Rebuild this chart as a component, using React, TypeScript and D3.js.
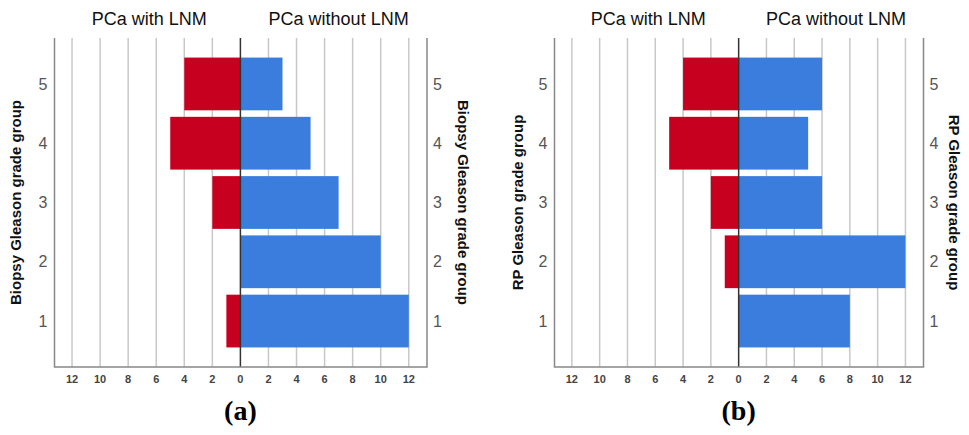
import React from 'react';
import * as d3 from 'd3';

const grades = ['5', '4', '3', '2', '1'];
const biopsyWithLNM = [4, 5, 2, 0, 1];
const biopsyWithoutLNM = [3, 5, 7, 10, 12];
const rpWithLNM = [4, 5, 2, 1, 0];
const rpWithoutLNM = [6, 5, 6, 12, 8];
const xTicks = [-12, -10, -8, -6, -4, -2, 0, 2, 4, 6, 8, 10, 12];

const RED = '#c8001f';
const BLUE = '#3b7ddc';
const FONT = 'Liberation Sans, Arial, sans-serif';

type PanelProps = {
  left: number;
  right: number;
  withLNM: number[];
  withoutLNM: number[];
  yLabel: string;
  tag: string;
  leftLabelX: number;
  rightLabelX: number;
};

const top = 38;
const bottom = 367;

const Panel = ({ left, right, withLNM, withoutLNM, yLabel, tag, leftLabelX, rightLabelX }: PanelProps) => {
  const x = d3.scaleLinear().domain([-13.25, 13.3]).range([left, right]);
  const y = d3.scaleBand<string>().domain(grades).range([top, bottom]).paddingInner(0.11).paddingOuter(0.33);
  const x0 = x(0);
  const midY = (top + bottom) / 2;

  return (
    <g>
      {xTicks.filter(t => t !== 0).map(t => (
        <line key={t} x1={x(t)} x2={x(t)} y1={top} y2={bottom} stroke="#c8c8c8" strokeWidth={1.5} />
      ))}
      {grades.map((g, i) => (
        <g key={g}>
          <rect x={x(-withLNM[i])} y={y(g)} width={x0 - x(-withLNM[i])} height={y.bandwidth()} fill={RED} />
          <rect x={x0} y={y(g)} width={x(withoutLNM[i]) - x0} height={y.bandwidth()} fill={BLUE} />
          <text x={left - 7} y={y(g)! + y.bandwidth() / 2} textAnchor="end" dy="0.35em" fontSize={16} fill="#555" fontFamily={FONT}>{g}</text>
          <text x={right + 6} y={y(g)! + y.bandwidth() / 2} dy="0.35em" fontSize={16} fill="#555" fontFamily={FONT}>{g}</text>
        </g>
      ))}
      <line x1={x0} x2={x0} y1={top} y2={bottom} stroke="#333" strokeWidth={1.5} />
      <path d={`M${left},${top}V${bottom}H${right}V${top}`} fill="none" stroke="#888" strokeWidth={1.5} />
      {xTicks.map(t => (
        <text key={t} x={x(t)} y={bottom + 16} textAnchor="middle" fontSize={11} fontWeight="bold" fill="#444" fontFamily={FONT}>{Math.abs(t)}</text>
      ))}
      <text x={x(-6.5)} y={25} textAnchor="middle" fontSize={18} fill="#111" fontFamily={FONT}>PCa with LNM</text>
      <text x={x(7)} y={25} textAnchor="middle" fontSize={18} fill="#111" fontFamily={FONT}>PCa without LNM</text>
      <text transform={`translate(${leftLabelX},${midY}) rotate(-90)`} textAnchor="middle" dy="0.35em" fontSize={15} fontWeight="bold" fill="#111" fontFamily={FONT}>{yLabel}</text>
      <text transform={`translate(${rightLabelX},${midY}) rotate(90)`} textAnchor="middle" dy="0.35em" fontSize={15} fontWeight="bold" fill="#111" fontFamily={FONT}>{yLabel}</text>
      <text x={x0} y={420} textAnchor="middle" fontSize={28} fontWeight="bold" fill="#000" fontFamily="Liberation Serif, Times New Roman, serif">{tag}</text>
    </g>
  );
};

export default function App() {
  return (
    <svg width={969} height={435} style={{ position: 'absolute', left: 0, top: 0, background: '#fff' }}>
      <Panel left={54.5} right={427} withLNM={biopsyWithLNM} withoutLNM={biopsyWithoutLNM}
        yLabel="Biopsy Gleason grade group" tag="(a)" leftLabelX={16} rightLabelX={463} />
      <Panel left={554.5} right={923.5} withLNM={rpWithLNM} withoutLNM={rpWithoutLNM}
        yLabel="RP Gleason grade group" tag="(b)" leftLabelX={518} rightLabelX={954} />
    </svg>
  );
}
